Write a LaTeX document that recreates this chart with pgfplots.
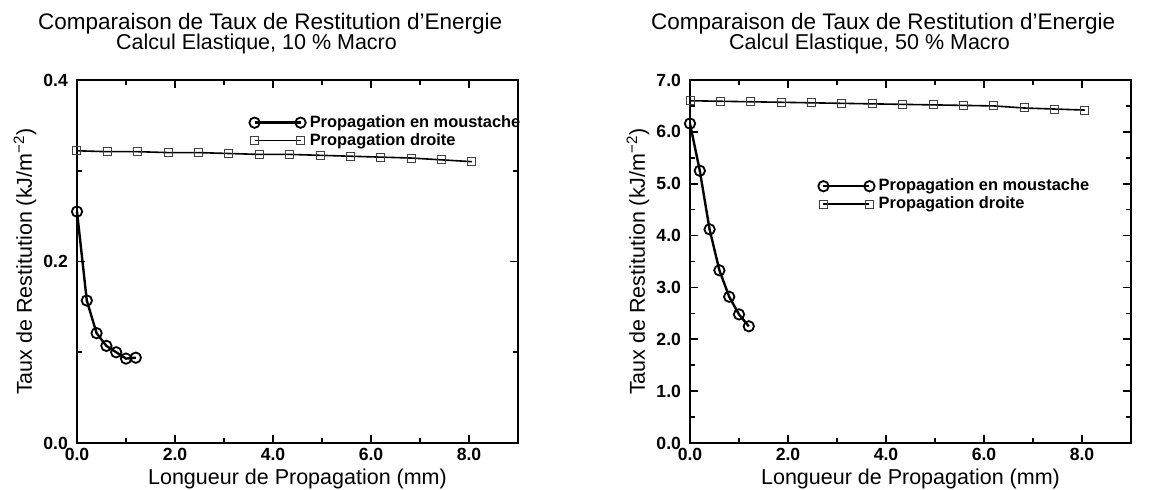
\documentclass[border=0pt]{standalone}
\usepackage{fontspec}
\setmainfont{Liberation Sans}
\usepackage{pgfplots}
\pgfplotsset{compat=1.18}

\pgfplotsset{
 myaxis/.style={
  scale only axis, width=220.5pt, height=181.5pt,
  xmin=0, xmax=9, xtick={0,2,4,6,8}, minor x tick num=1,
  tick align=inside,
  axis line style={line width=1pt},
  major tick length=4pt, minor tick length=2.5pt,
  every tick/.style={black, line width=0.8pt},
  ticklabel style={font=\fontsize{8.8}{10}\selectfont\bfseries},
  /pgf/number format/assume math mode=true,
  xticklabel style={/pgf/number format/fixed, /pgf/number format/fixed zerofill, /pgf/number format/precision=1, yshift=1pt},
  yticklabel style={/pgf/number format/fixed, /pgf/number format/fixed zerofill, /pgf/number format/precision=1, xshift=-1pt},
  xlabel={Longueur de Propagation (mm)},
  ylabel={Taux de Restitution (kJ/m\textsuperscript{−2})},
  label style={font=\fontsize{10.75}{12}\selectfont},
  xlabel style={at={(axis description cs:0.5,0)}, anchor=base, yshift=-21pt},
  ylabel style={at={(axis description cs:-0.118,0.5)}, anchor=center},
  clip=false,
  legend cell align=left,
  legend style={draw=none, fill=none, inner sep=0pt, font=\fontsize{8.2}{9}\selectfont\bfseries, row sep=-2.5pt, /tikz/every even column/.append style={column sep=2pt}},
  legend image code/.code={\draw[##1] plot coordinates {(0pt,0pt) (23pt,0pt)};},
 },
 moust/.style={black, line width=1.2pt, mark=o, mark size=2.6pt, mark options={line width=0.9pt, solid}},
 droite/.style={black, line width=0.8pt, mark=square, mark size=2pt, mark options={line width=0.5pt, black!75}},
}

\begin{document}
\begin{tikzpicture}
\useasboundingbox (-38.5pt,-23.5pt) rectangle (546pt,221.5pt);

\begin{axis}[myaxis, at={(0pt,0pt)}, anchor=south west,
  ymin=0, ymax=0.4, ytick={0,0.2,0.4}, minor y tick num=1,
  legend style={at={(0.39,0.915)}, anchor=north west}]
\addplot[moust] coordinates {(0,0.255) (0.2,0.157) (0.4,0.121) (0.6,0.107) (0.8,0.100) (1.0,0.093) (1.2,0.094)};
\addlegendentry{Propagation en moustache}
\addplot[droite] coordinates {(0,0.322) (0.62,0.321) (1.24,0.321) (1.86,0.320) (2.48,0.320) (3.10,0.319) (3.72,0.318) (4.34,0.318) (4.96,0.317) (5.58,0.316) (6.20,0.315) (6.82,0.314) (7.44,0.312) (8.06,0.310)};
\addlegendentry{Propagation droite}
\node[font=\fontsize{11.25}{13}\selectfont, anchor=base] at (rel axis cs:0.438,1.138) {Comparaison de Taux de Restitution d’Energie};
\node[font=\fontsize{10.75}{12}\selectfont, anchor=base] at (rel axis cs:0.407,1.083) {Calcul Elastique, 10 \% Macro};
\end{axis}

\begin{axis}[myaxis, at={(306.5pt,0pt)}, anchor=south west,
  ymin=0, ymax=7, ytick={0,1,2,3,4,5,6,7}, minor y tick num=1,
  legend style={at={(0.29,0.74)}, anchor=north west}]
\addplot[moust] coordinates {(0,6.16) (0.2,5.25) (0.4,4.12) (0.6,3.33) (0.8,2.82) (1.0,2.48) (1.2,2.25)};
\addlegendentry{Propagation en moustache}
\addplot[droite] coordinates {(0,6.60) (0.62,6.59) (1.24,6.58) (1.86,6.57) (2.48,6.56) (3.10,6.55) (3.72,6.54) (4.34,6.53) (4.96,6.52) (5.58,6.51) (6.20,6.50) (6.82,6.46) (7.44,6.44) (8.06,6.42)};
\addlegendentry{Propagation droite}
\node[font=\fontsize{11.25}{13}\selectfont, anchor=base] at (rel axis cs:0.438,1.138) {Comparaison de Taux de Restitution d’Energie};
\node[font=\fontsize{10.75}{12}\selectfont, anchor=base] at (rel axis cs:0.407,1.083) {Calcul Elastique, 50 \% Macro};
\end{axis}
\end{tikzpicture}
\end{document}
